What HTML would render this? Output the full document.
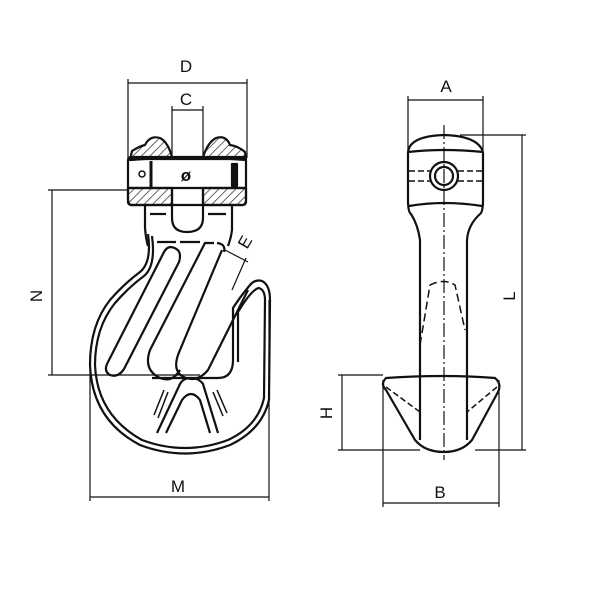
<!DOCTYPE html>
<html><head><style>
html,body{margin:0;padding:0;background:#fff;}
svg{display:block;}
text{font-family:"Liberation Sans",sans-serif;font-size:17px;fill:#111;}
</style></head><body>
<svg width="600" height="600" viewBox="0 0 600 600" xmlns="http://www.w3.org/2000/svg">
<defs>
<pattern id="h" width="6" height="6" patternUnits="userSpaceOnUse" patternTransform="rotate(45)">
<line x1="0" y1="0" x2="0" y2="6" stroke="#111" stroke-width="1.3"/>
</pattern>
</defs>
<g fill="none" stroke="#111" stroke-width="1.2">
<line x1="128" y1="83" x2="247" y2="83"/>
<line x1="128" y1="79" x2="128" y2="158"/>
<line x1="247" y1="79" x2="247" y2="158"/>
<line x1="172" y1="110" x2="203" y2="110"/>
<line x1="172" y1="106" x2="172" y2="158"/>
<line x1="203" y1="106" x2="203" y2="158"/>
<line x1="52" y1="190" x2="52" y2="375"/>
<line x1="48" y1="190" x2="128" y2="190"/>
<line x1="48" y1="375" x2="200" y2="375"/>
<line x1="90" y1="497" x2="269" y2="497"/>
<line x1="90" y1="355" x2="90" y2="501"/>
<line x1="269" y1="300" x2="269" y2="501"/>
<line x1="225" y1="250" x2="248" y2="262"/>
<line x1="246" y1="258" x2="232" y2="290"/>
</g>
<g fill="none" stroke="#111" stroke-width="2.2" stroke-linejoin="round">
<path d="M130 160 L132 151 Q140 146 145 145 Q150 135 160 138 Q168 142 172 157 Z" fill="url(#h)"/>
<path d="M203 157 Q208 142 216 138 Q226 135 230 145 Q238 146 245 152 L246 160 Z" fill="url(#h)"/>
<path d="M128 188 L172 188 L172 205 L131 205 Q128 204 128 200 Z" fill="url(#h)"/>
<path d="M203 188 L246 188 L246 200 Q246 204 243 205 L203 205 Z" fill="url(#h)"/>
<rect x="128" y="157" width="118" height="48" rx="3"/>
<line x1="128" y1="188" x2="246" y2="188"/>
<line x1="128" y1="159" x2="246" y2="159"/>
<line x1="151" y1="161" x2="151" y2="187" stroke-width="3"/>
<rect x="232" y="164" width="5" height="22" fill="#111"/>
<circle cx="142" cy="174" r="3" stroke-width="1.5"/>
<path d="M172 188 L172 218 Q172 232 187 232 Q203 232 203 218 L203 188"/>
<path d="M145 205 L145 228 Q146 240 148 246"/>
<path d="M232 205 L232 230 Q231 238 228 246"/>
<line x1="150" y1="214" x2="166" y2="214"/>
<line x1="208" y1="214" x2="226" y2="214"/>
<line x1="157" y1="242" x2="176" y2="242"/>
<line x1="180" y1="242" x2="200" y2="242"/>
<path d="M148 234 Q152 262 140 272 Q125 283 110 300 Q90 325 90 365 Q92 420 140 445 Q185 462 230 445 Q262 430 269 400 L270 300 Q270 285 262 281 Q255 279 250 285 Q240 297 233 308 L233 360"/>
<path d="M152 236 Q156 266 144 276 Q129 287 115 303 Q95 328 95 365 Q97 415 142 440 Q185 456 228 440 Q258 426 264 398 L265 300 Q265 290 259 288 Q252 289 238 312 L238 362"/>
<path d="M233 360 Q233 378 218 378 L152 378"/>
<path d="M171 247 Q183 249 179 262 L124 369 Q118 378 110 375 Q103 371 108 362 L163 254 Q166 247 171 247 Z"/>
<path d="M214 243 L205 243 L150 350 Q143 370 160 378 Q172 383 180 370"/>
<path d="M222 250 L180 350 Q170 372 186 378 Q198 382 208 370 L248 290"/>
<path d="M217 243 Q226 244 224 252"/>
<path d="M157 433 L180 384 Q183 378 191 378 Q199 378 203 384 L218 433"/>
<path d="M166 433 L182 400 Q191 388 200 400 L210 433"/>
<line x1="154" y1="415" x2="164" y2="390" stroke-width="1.5"/>
<line x1="158" y1="418" x2="168" y2="392" stroke-width="1.5"/>
<line x1="213" y1="392" x2="223" y2="416" stroke-width="1.5"/>
<line x1="217" y1="390" x2="227" y2="413" stroke-width="1.5"/>
</g>
<text x="186" y="72" text-anchor="middle">D</text>
<text x="186" y="105" text-anchor="middle">C</text>
<text x="186" y="181" text-anchor="middle" font-weight="bold">ø</text>
<text x="178" y="492" text-anchor="middle">M</text>
<text transform="translate(42,296) rotate(-90)" text-anchor="middle">N</text>
<text transform="translate(250,245) rotate(-60)" text-anchor="middle">E</text>

<g fill="none" stroke="#111" stroke-width="1.2">
<line x1="408" y1="100" x2="483" y2="100"/>
<line x1="408" y1="96" x2="408" y2="150"/>
<line x1="483" y1="96" x2="483" y2="150"/>
<line x1="522" y1="135" x2="522" y2="450"/>
<line x1="460" y1="135" x2="526" y2="135"/>
<line x1="475" y1="450" x2="526" y2="450"/>
<line x1="342" y1="375" x2="342" y2="450"/>
<line x1="338" y1="375" x2="383" y2="375"/>
<line x1="338" y1="450" x2="420" y2="450"/>
<line x1="383" y1="503" x2="499" y2="503"/>
<line x1="383" y1="380" x2="383" y2="507"/>
<line x1="499" y1="380" x2="499" y2="507"/>
<line x1="444" y1="125" x2="444" y2="460" stroke-dasharray="14,3,2,3"/>
</g>
<g fill="none" stroke="#111" stroke-width="2.2" stroke-linejoin="round">
<path d="M408 152 Q410 136 444 135 Q478 136 483 152"/>
<path d="M408 152 L408 200 Q408 212 411 214 Q418 225 420 240 L420 440"/>
<path d="M483 152 L483 200 Q483 212 480 214 Q468 225 467 240 L467 440"/>
<path d="M408 152 Q444 148 483 152"/>
<path d="M409 206 Q444 200 482 206"/>
<circle cx="444" cy="176" r="14"/>
<circle cx="444" cy="176" r="9"/>
<line x1="409" y1="171" x2="430" y2="171" stroke-width="1.5" stroke-dasharray="6,3"/>
<line x1="409" y1="181" x2="430" y2="181" stroke-width="1.5" stroke-dasharray="6,3"/>
<line x1="458" y1="171" x2="482" y2="171" stroke-width="1.5" stroke-dasharray="6,3"/>
<line x1="458" y1="181" x2="482" y2="181" stroke-width="1.5" stroke-dasharray="6,3"/>
<path d="M420 345 L430 285 Q444 278 455 285 L465 330" stroke-width="1.5" stroke-dasharray="8,4"/>
<path d="M386 378 Q380 384 386 390 L415 440 Q425 452 444 452 Q462 452 472 440 L498 392 Q502 384 495 378 Q444 374 386 378 Z"/>
<line x1="386" y1="387" x2="420" y2="412" stroke-width="1.5" stroke-dasharray="6,3"/>
<line x1="497" y1="387" x2="467" y2="412" stroke-width="1.5" stroke-dasharray="6,3"/>
</g>
<text x="446" y="92" text-anchor="middle">A</text>
<text x="440" y="498" text-anchor="middle">B</text>
<text transform="translate(515,296) rotate(-90)" text-anchor="middle">L</text>
<text transform="translate(332,413) rotate(-90)" text-anchor="middle">H</text>
</svg>
</body></html>
